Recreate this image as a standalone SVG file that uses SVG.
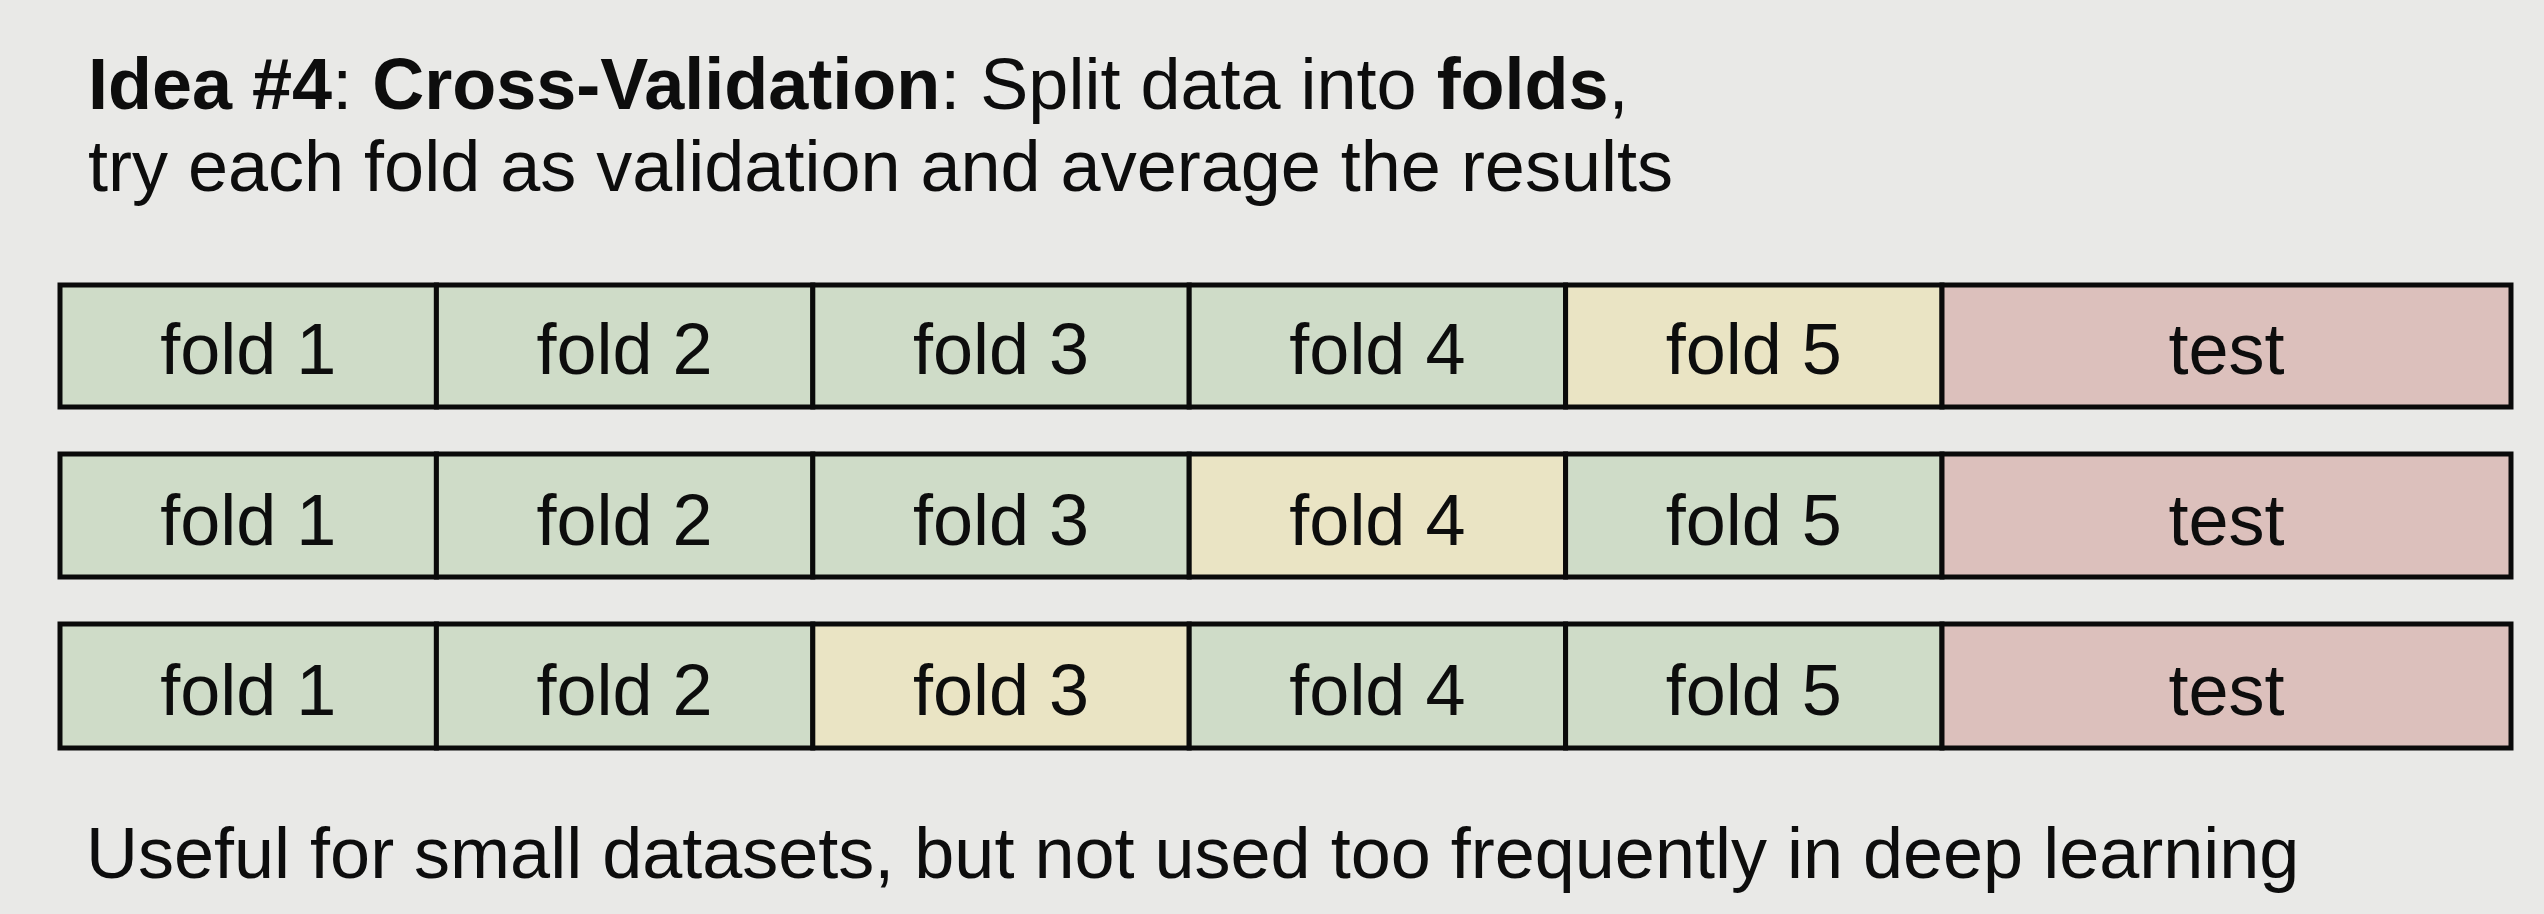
<svg xmlns="http://www.w3.org/2000/svg" width="2544" height="914" viewBox="0 0 2544 914">
<style>
text{font-family:"Liberation Sans",Arial,sans-serif;fill:#0d0d0d}
.t{font-size:72px}
.b{font-weight:bold}
.lbl{font-size:72px;text-anchor:middle}
.cell{stroke:#0a0a0a;stroke-width:5}
.tr{fill:#cfdcc8}
.va{fill:#eae4c4}
.te{fill:#dcc0bc}
</style>
<rect x="0" y="0" width="2544" height="914" fill="#e9e9e7"/>
<g id="title">
<text class="t" x="88" y="109"><tspan class="b">Idea #4</tspan>: <tspan class="b">Cross-Validation</tspan>: Split data into <tspan class="b">folds</tspan>,</text>
<text class="t" x="88" y="191">try each fold as validation and average the results</text>
</g>
<g id="row1">
<rect class="cell tr" x="60" y="285" width="376.4" height="122"/>
<rect class="cell tr" x="436.4" y="285" width="376.4" height="122"/>
<rect class="cell tr" x="812.8" y="285" width="376.4" height="122"/>
<rect class="cell tr" x="1189.2" y="285" width="376.4" height="122"/>
<rect class="cell va" x="1565.6" y="285" width="376.4" height="122"/>
<rect class="cell te" x="1942" y="285" width="569" height="122"/>
<text class="lbl" x="248.2" y="374">fold 1</text>
<text class="lbl" x="624.6" y="374">fold 2</text>
<text class="lbl" x="1001" y="374">fold 3</text>
<text class="lbl" x="1377.4" y="374">fold 4</text>
<text class="lbl" x="1753.8" y="374">fold 5</text>
<text class="lbl" x="2226.5" y="374">test</text>
</g>
<g id="row2">
<rect class="cell tr" x="60" y="454" width="376.4" height="123"/>
<rect class="cell tr" x="436.4" y="454" width="376.4" height="123"/>
<rect class="cell tr" x="812.8" y="454" width="376.4" height="123"/>
<rect class="cell va" x="1189.2" y="454" width="376.4" height="123"/>
<rect class="cell tr" x="1565.6" y="454" width="376.4" height="123"/>
<rect class="cell te" x="1942" y="454" width="569" height="123"/>
<text class="lbl" x="248.2" y="545">fold 1</text>
<text class="lbl" x="624.6" y="545">fold 2</text>
<text class="lbl" x="1001" y="545">fold 3</text>
<text class="lbl" x="1377.4" y="545">fold 4</text>
<text class="lbl" x="1753.8" y="545">fold 5</text>
<text class="lbl" x="2226.5" y="545">test</text>
</g>
<g id="row3">
<rect class="cell tr" x="60" y="624" width="376.4" height="124"/>
<rect class="cell tr" x="436.4" y="624" width="376.4" height="124"/>
<rect class="cell va" x="812.8" y="624" width="376.4" height="124"/>
<rect class="cell tr" x="1189.2" y="624" width="376.4" height="124"/>
<rect class="cell tr" x="1565.6" y="624" width="376.4" height="124"/>
<rect class="cell te" x="1942" y="624" width="569" height="124"/>
<text class="lbl" x="248.2" y="715">fold 1</text>
<text class="lbl" x="624.6" y="715">fold 2</text>
<text class="lbl" x="1001" y="715">fold 3</text>
<text class="lbl" x="1377.4" y="715">fold 4</text>
<text class="lbl" x="1753.8" y="715">fold 5</text>
<text class="lbl" x="2226.5" y="715">test</text>
</g>
<g id="connectors"></g>
<g id="footer">
<text class="t" x="86" y="878">Useful for small datasets, but not used too frequently in deep learning</text>
</g>
</svg>
